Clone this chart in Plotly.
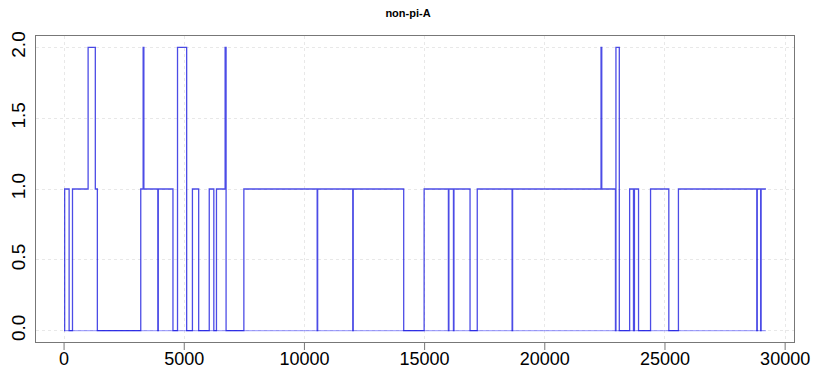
import plotly.graph_objects as go

# Change points of the step series: position and the level that starts there
positions = [0, 25, 210, 350, 1000, 1300, 1385, 3190, 3290, 3320, 3900, 3920,
             4530, 4720, 5100, 5340, 5600, 6040, 6230, 6340, 6700, 6740, 7480,
             10530, 10550, 12010, 12030, 14130, 14980, 15990, 16010, 16200, 16220,
             16890, 17190, 18640, 18660, 22340, 22370, 22940, 22960, 23100, 23530,
             23690, 23730, 23900, 24400, 25160, 25560, 28820, 28840, 28980, 29000,
             29200]
levels = [0, 1, 0, 1, 2, 1, 0, 1, 2, 1, 0, 1,
          0, 2, 0, 1, 0, 1, 0, 1, 2, 0, 1,
          0, 1, 0, 1, 0, 1, 0, 1, 0, 1,
          0, 1, 0, 1, 2, 1, 0, 2, 0, 1,
          0, 1, 0, 1, 0, 1, 0, 1, 0, 1,
          1]

# Reference level drawn along the whole span
base_positions = [0, 29200]
base_levels = [0, 0]

x_ticks = [0, 5000, 10000, 15000, 20000, 25000, 30000]
y_ticks = [0.0, 0.5, 1.0, 1.5, 2.0]
y_tick_text = ["0.0", "0.5", "1.0", "1.5", "2.0"]

PLOT_H = 367 - 36 - 25  # plot area height in pixels
TICK_PX = 8

fig = go.Figure()
fig.add_trace(go.Scatter(
    x=base_positions, y=base_levels, mode="lines",
    line=dict(color="rgba(0,0,255,0.35)", width=1.2),
    hoverinfo="skip", showlegend=False))
fig.add_trace(go.Scatter(
    x=positions, y=levels, mode="lines",
    line=dict(color="rgba(0,0,220,0.7)", width=1.3, shape="hv"),
    showlegend=False))

# Outward tick marks below the bottom edge, one per x tick value
for v in x_ticks:
    fig.add_shape(type="line", xref="x", yref="paper",
                  x0=v, x1=v, y0=0, y1=-TICK_PX / PLOT_H,
                  line=dict(color="#777777", width=1))

fig.update_layout(
    width=816, height=367,
    margin=dict(l=36, r=22, t=36, b=25),
    paper_bgcolor="white", plot_bgcolor="white",
    font=dict(family="Liberation Sans, Arial, sans-serif", color="black"),
    title=dict(text="<b>non-pi-A</b>", x=0.5, xanchor="center",
               y=1 - 13 / 367, yanchor="middle",
               font=dict(size=11, color="black")),
)
fig.update_xaxes(
    range=[-1168, 30368], tickvals=x_ticks,
    ticktext=[str(v) for v in x_ticks], automargin=False,
    showgrid=True, gridcolor="#e8e8e8", griddash="dot", gridwidth=1,
    zeroline=False, showline=True, linecolor="#777777", linewidth=1,
    mirror=True, ticks="", ticklabelstandoff=0,
    tickfont=dict(size=18, color="black"))
fig.update_yaxes(
    range=[-0.08, 2.08], tickvals=y_ticks, ticktext=y_tick_text,
    tickangle=-90, automargin=False,
    showgrid=True, gridcolor="#e8e8e8", griddash="dot", gridwidth=1,
    zeroline=False, showline=True, linecolor="#777777", linewidth=1,
    mirror=True, ticks="", ticklabelstandoff=2,
    tickfont=dict(size=19, color="black"))

fig.write_html("out.html")
